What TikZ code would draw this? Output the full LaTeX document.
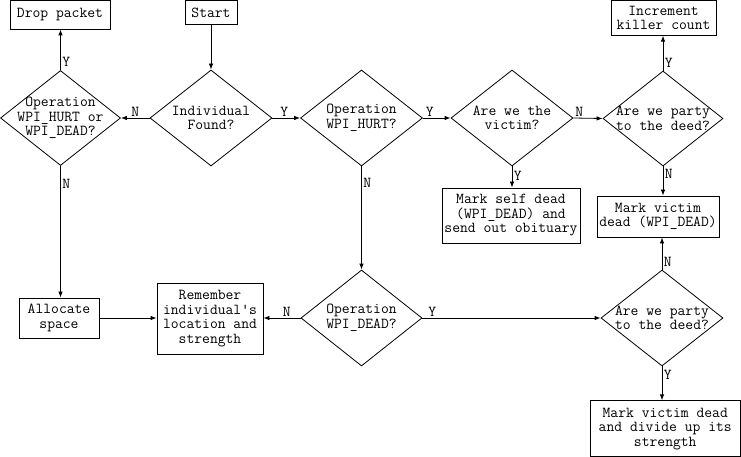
\documentclass[tikz,border=0pt]{standalone}
\usetikzlibrary{shapes.geometric,arrows.meta}
\begin{document}
\begin{tikzpicture}[x=1pt,y=-1pt,
  every node/.style={font=\ttfamily\fontsize{15.2}{14.5}\selectfont},
  box/.style={draw, line width=0.8pt, align=center, inner sep=0pt},
  dia/.style={draw, diamond, line width=0.8pt, inner sep=0pt, minimum width=122pt, minimum height=96pt},
  dtext/.style={align=center, inner sep=0pt},
  conn/.style={line width=0.8pt, -{Latex[length=6pt,width=4.5pt]}},
  lab/.style={inner sep=1.5pt}]
\useasboundingbox (0,0) rectangle (741,457);
% boxes
\node[box, minimum width=100pt, minimum height=28.5pt] (drop) at (60,14.75) {Drop packet};
\node[box, minimum width=52pt, minimum height=24pt] (start) at (211,12.5) {Start};
\node[box, minimum width=105pt, minimum height=35pt] (inc) at (663.5,17.75) {Increment\\killer count};
\node[box, minimum width=122pt, minimum height=41pt] (mvd) at (658,216.5) {Mark victim\\dead (WPI\_DEAD)};
\node[box, minimum width=138pt, minimum height=55pt] (self) at (511,215.5) {Mark self dead\\(WPI\_DEAD) and\\send out obituary};
\node[box, minimum width=80pt, minimum height=40pt] (alloc) at (59,318) {Allocate\\space};
\node[box, minimum width=106pt, minimum height=71pt] (rem) at (210,318.5) {Remember\\individual's\\location and\\strength};
\node[box, minimum width=150.5pt, minimum height=56pt] (div) at (665.25,428.75) {Mark victim dead\\and divide up its\\strength};
% diamonds
\node[dia, minimum width=120pt, minimum height=95pt] (op1) at (60.5,118) {};
\node[dtext] (op1t) at (op1) {Operation\\WPI\_HURT or\\WPI\_DEAD?};
\node[dia] (found) at (211,118) {};
\node[dtext] (foundt) at (found) {Individual\\Found?};
\node[dia] (hurt) at (361.5,118) {};
\node[dtext] (hurtt) at (hurt) {Operation\\WPI\_HURT?};
\node[dia] (vic) at (512,118) {};
\node[dtext] (vict) at (vic) {Are we the\\victim?};
\node[dia, minimum width=120pt, minimum height=95pt] (p1) at (663,118.5) {};
\node[dtext] (p1t) at (p1) {Are we party\\to the deed?};
\node[dia, minimum width=121pt] (dead) at (361.5,318) {};
\node[dtext] (deadt) at (dead) {Operation\\WPI\_DEAD?};
\node[dia] (p2) at (662,318) {};
\node[dtext] (p2t) at (p2) {Are we party\\to the deed?};
% connectors
\draw[conn] (start) -- (found);
\draw[conn] (found.west) -- node[lab, above, pos=0.5] {N} (op1.east);
\draw[conn] (op1.north) -- node[lab, right, pos=0.2] {Y} (op1.north |- drop.south);
\draw[conn] (op1.south) -- node[lab, right, pos=0.135] {N} (op1.south |- alloc.north);
\draw[conn] (alloc.east) -- (alloc.east -| rem.west);
\draw[conn] (found.east) -- node[lab, above, pos=0.43] {Y} (hurt.west);
\draw[conn] (hurt.east) -- node[lab, above, pos=0.25] {Y} (vic.west);
\draw[conn] (vic.east) -- node[lab, above, pos=0.2] {N} (p1.west);
\draw[conn] (p1.north) -- node[lab, right, pos=0.22] {Y} (p1.north |- inc.south);
\draw[conn] (p1.south) -- node[lab, right, pos=0.27] {N} (p1.south |- mvd.north);
\draw[conn] (vic.south) -- node[lab, right, pos=0.45] {Y} (vic.south |- self.north);
\draw[conn] (hurt.south) -- node[lab, right, pos=0.16] {N} (dead.north);
\draw[conn] (dead.west) -- node[lab, above, pos=0.37] {N} (dead.west -| rem.east);
\draw[conn] (dead.east) -- node[lab, above, pos=0.056] {Y} (p2.west);
\draw[conn] (p2.north) -- node[lab, right, pos=0.24] {N} (p2.north |- mvd.south);
\draw[conn] (p2.south) -- node[lab, right, pos=0.26] {Y} (p2.south |- div.north);
\end{tikzpicture}
\end{document}
